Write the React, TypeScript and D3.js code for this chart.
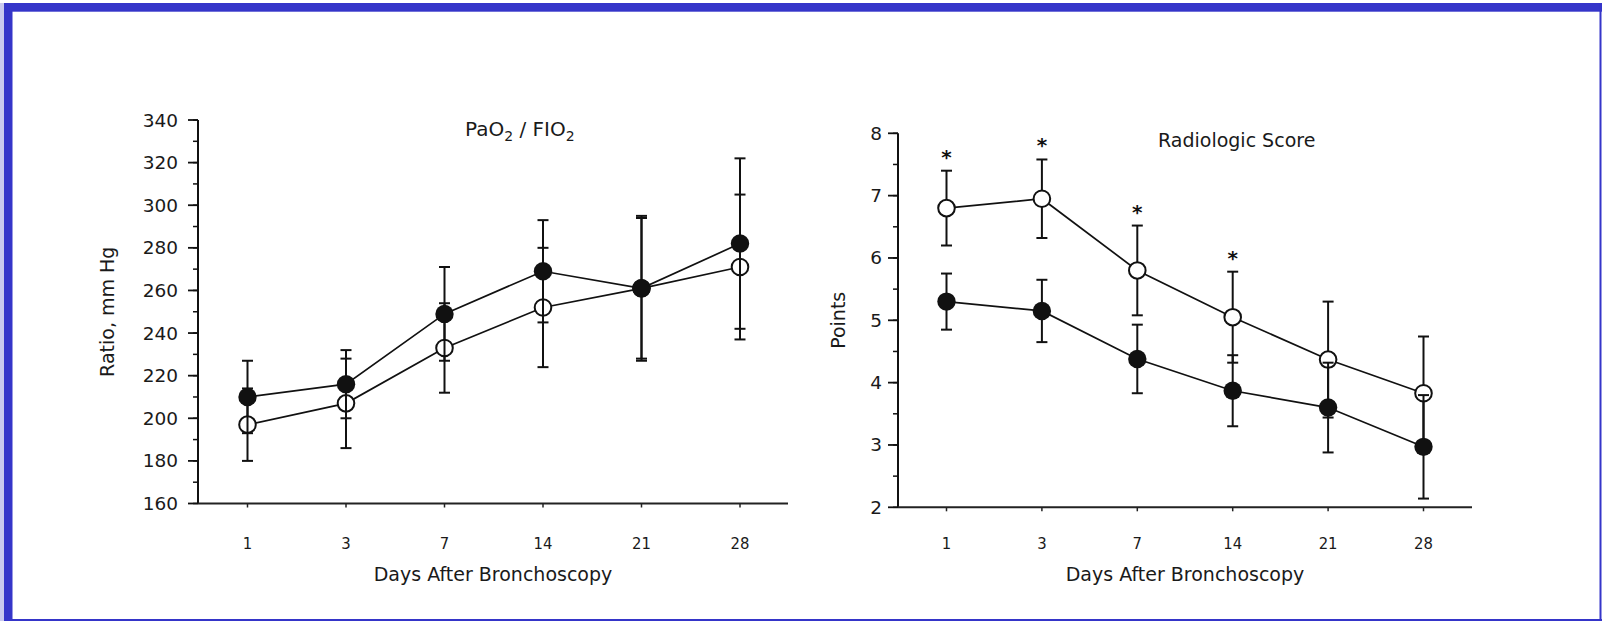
import React from "react";
import * as d3 from "d3";

// ---- Data ----
const days = ["1", "3", "7", "14", "21", "28"];

// PaO2 / FIO2 (mm Hg)
const pfFilledMean = [210, 216, 249, 269, 261, 282];
const pfFilledSD = [17, 16, 22, 24, 34, 40];
const pfOpenMean = [197, 207, 233, 252, 261, 271];
const pfOpenSD = [17, 21, 21, 28, 33, 34];
const pfTicks = [160, 180, 200, 220, 240, 260, 280, 300, 320, 340];

// Radiologic score (points)
const radOpenMean = [6.8, 6.95, 5.8, 5.05, 4.37, 3.83];
const radOpenSD = [0.6, 0.63, 0.72, 0.73, 0.93, 0.91];
const radFilledMean = [5.3, 5.15, 4.38, 3.87, 3.6, 2.97];
const radFilledSD = [0.45, 0.5, 0.55, 0.57, 0.72, 0.83];
const radSignificant = [true, true, true, true, false, false];
const radTicks = [2, 3, 4, 5, 6, 7, 8];

const FONT = "'DejaVu Sans', Verdana, sans-serif";
const NARROW = "'DejaVu Sans Condensed', 'Liberation Sans Narrow', 'DejaVu Sans', sans-serif";
const BLUE = "#3535c9";

type PanelProps = {
  x0: number;
  x1: number;
  xRange: [number, number];
  yDomain: [number, number];
  yRange: [number, number];
  majorTicks: number[];
  minorStep: number;
  labelRight: number;
  yTitle: string;
  yTitleX: number;
  filledMean: number[];
  filledSD: number[];
  openMean: number[];
  openSD: number[];
  significant?: boolean[];
  title: React.ReactNode;
};

function Panel(p: PanelProps) {
  const x = d3.scalePoint<string>().domain(days).range(p.xRange);
  const y = d3.scaleLinear().domain(p.yDomain).range(p.yRange);
  const baseY = p.yRange[0];
  const topY = p.yRange[1];
  const minor = d3.range(p.yDomain[0], p.yDomain[1] + 1e-9, p.minorStep);
  const line = d3
    .line<number>()
    .x((_, i) => x(days[i]) as number)
    .y((d) => y(d));
  const R = 8.3;
  const cap = 5.5;

  const errBars = (mean: number[], sd: number[], key: string) =>
    mean.map((m, i) => {
      const cx = x(days[i]) as number;
      const yt = y(m + sd[i]);
      const yb = y(m - sd[i]);
      return (
        <g key={key + i} stroke="#111" strokeWidth={2}>
          <line x1={cx} x2={cx} y1={yt} y2={yb} />
          <line x1={cx - cap} x2={cx + cap} y1={yt} y2={yt} />
          <line x1={cx - cap} x2={cx + cap} y1={yb} y2={yb} />
        </g>
      );
    });

  const midY = (baseY + topY) / 2;

  return (
    <g>
      {/* axes */}
      <line x1={p.x0} x2={p.x0} y1={topY} y2={baseY} stroke="#111" strokeWidth={2} />
      <line x1={p.x0} x2={p.x1} y1={baseY} y2={baseY} stroke="#222" strokeWidth={2} />
      {minor.map((t, i) => (
        <line key={"mn" + i} x1={p.x0 - 5} x2={p.x0} y1={y(t)} y2={y(t)} stroke="#111" strokeWidth={1.5} />
      ))}
      {p.majorTicks.map((t) => (
        <g key={"mj" + t}>
          <line x1={p.x0 - 10} x2={p.x0} y1={y(t)} y2={y(t)} stroke="#111" strokeWidth={1.8} />
          <text
            x={p.labelRight}
            y={y(t)}
            textAnchor="end"
            dominantBaseline="central"
            fontFamily={FONT}
            fontSize={18.5}
            fill="#1a1a1a"
          >
            {t}
          </text>
        </g>
      ))}
      {days.map((d) => (
        <g key={"xt" + d}>
          <line x1={x(d)} x2={x(d)} y1={baseY} y2={baseY + 4} stroke="#222" strokeWidth={1.5} />
          <text
            x={x(d)}
            y={543}
            textAnchor="middle"
            dominantBaseline="central"
            fontFamily={NARROW}
            fontStretch="condensed"
            fontSize={16.5}
            fill="#1a1a1a"
          >
            {d}
          </text>
        </g>
      ))}
      <text
        x={(p.x0 + p.x1) / 2}
        y={574}
        textAnchor="middle"
        dominantBaseline="central"
        fontFamily={FONT}
        fontSize={19}
        fill="#1a1a1a"
      >
        Days After Bronchoscopy
      </text>
      <text
        transform={`translate(${p.yTitleX},${midY}) rotate(-90)`}
        textAnchor="middle"
        dominantBaseline="central"
        fontFamily={FONT}
        fontSize={19}
        fill="#1a1a1a"
      >
        {p.yTitle}
      </text>
      {p.title}

      {/* lines */}
      <path d={line(p.openMean) as string} fill="none" stroke="#111" strokeWidth={1.7} />
      <path d={line(p.filledMean) as string} fill="none" stroke="#111" strokeWidth={1.7} />

      {errBars(p.openMean, p.openSD, "eo")}
      {p.openMean.map((m, i) => (
        <circle key={"o" + i} cx={x(days[i])} cy={y(m)} r={R} fill="#fff" stroke="#111" strokeWidth={2} />
      ))}
      {errBars(p.filledMean, p.filledSD, "ef")}
      {p.filledMean.map((m, i) => (
        <circle key={"f" + i} cx={x(days[i])} cy={y(m)} r={R + 0.9} fill="#111" />
      ))}

      {p.significant &&
        p.significant.map((s, i) =>
          s ? (
            <text
              key={"s" + i}
              x={x(days[i])}
              y={y(p.openMean[i] + p.openSD[i]) - 19}
              textAnchor="middle"
              dominantBaseline="central"
              fontFamily={FONT}
              fontSize={20}
              fontWeight="bold"
              fill="#111"
              dy={5}
            >
              *
            </text>
          ) : null
        )}
    </g>
  );
}

export default function App() {
  return (
    <svg
      width={1602}
      height={621}
      style={{ position: "absolute", left: 0, top: 0, background: "#fff" }}
    >
      <rect x={0} y={0} width={1602} height={621} fill="#fff" />
      {/* frame */}
      <rect x={0} y={3} width={4} height={618} fill="#c9c9ee" />
      <rect x={4} y={3} width={8.5} height={618} fill={BLUE} />
      <rect x={4} y={3} width={1598} height={8.7} fill={BLUE} />
      <rect x={1599.5} y={3} width={2} height={618} fill={BLUE} />
      <rect x={4} y={619} width={1598} height={2} fill={BLUE} />

      <Panel
        x0={198}
        x1={788}
        xRange={[247.5, 740]}
        yDomain={[160, 340]}
        yRange={[503.5, 120]}
        majorTicks={pfTicks}
        minorStep={10}
        labelRight={178}
        yTitle="Ratio, mm Hg"
        yTitleX={106.5}
        filledMean={pfFilledMean}
        filledSD={pfFilledSD}
        openMean={pfOpenMean}
        openSD={pfOpenSD}
        title={
          <text x={465} y={136} fontFamily={FONT} fontSize={20} fill="#1a1a1a">
            PaO
            <tspan fontSize={14} dy={5}>2</tspan>
            <tspan dy={-5}> / FIO</tspan>
            <tspan fontSize={14} dy={5}>2</tspan>
          </text>
        }
      />
      <Panel
        x0={898}
        x1={1472}
        xRange={[946.5, 1423.5]}
        yDomain={[2, 8]}
        yRange={[507.3, 133.3]}
        majorTicks={radTicks}
        minorStep={0.5}
        labelRight={882}
        yTitle="Points"
        yTitleX={838}
        filledMean={radFilledMean}
        filledSD={radFilledSD}
        openMean={radOpenMean}
        openSD={radOpenSD}
        significant={radSignificant}
        title={
          <text x={1158} y={147} fontFamily={FONT} fontSize={19} fill="#1a1a1a">
            Radiologic Score
          </text>
        }
      />
    </svg>
  );
}
